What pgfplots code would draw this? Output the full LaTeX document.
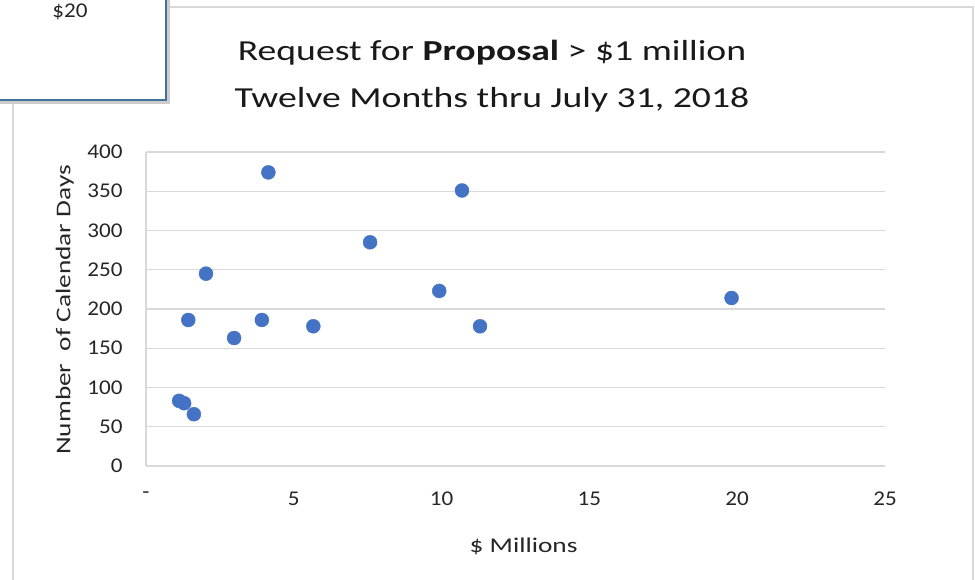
\documentclass[border=0pt]{standalone}
\usepackage{fontspec}
\setmainfont{Carlito}
\newfontfamily\wide[FakeStretch=1.3]{Carlito}
\newfontfamily\tickf[FakeStretch=1.1]{Carlito}
\usepackage{pgfplots}
\pgfplotsset{compat=1.18}
\definecolor{dot}{HTML}{4472C4}
\definecolor{gridc}{HTML}{D9D9D9}
\definecolor{txt}{HTML}{262626}
\definecolor{boxedge}{HTML}{41719C}
\begin{document}
\begin{tikzpicture}[x=1pt,y=1pt]
\path[use as bounding box] (0,0) rectangle (975,580);
% chart area frame
\draw[gridc, line width=1.5pt] (13,-5) -- (13,573) -- (973,573) -- (973,-5);
\node[align=center, font=\wide\fontsize{29}{47}\selectfont, text=black!90] at (492,504)
  {Request for \textbf{Proposal} > \$1 million\\Twelve Months thru July 31, 2018};
\begin{axis}[
  at={(146pt,114pt)}, anchor=south west,
  scale only axis, width=739pt, height=314pt,
  xmin=0, xmax=25, ymin=0, ymax=400,
  xtick={0,5,...,25}, xticklabels={-,5,10,15,20,25},
  ytick={0,50,...,400},
  ymajorgrids, grid style={gridc, line width=1.2pt},
  axis lines=left, axis line style={-, gridc, line width=1.2pt},
  major tick length=0pt,
  /pgf/number format/assume math mode=true,
  ticklabel style={font=\tickf\fontsize{21}{24}\selectfont, text=txt},
  xticklabel style={yshift=-22pt},
  yticklabel style={xshift=-20pt},
  xlabel={\$ Millions}, ylabel={Number\ \ of Calendar Days},
  label style={font=\wide\fontsize{21}{24}\selectfont, text=txt},
  x label style={at={(axis description cs:0.511,-0.255)}, anchor=center},
  y label style={at={(axis description cs:-0.11,0.497)}, anchor=center},
]
\addplot[only marks, mark=*, mark size=7pt, mark options={fill=dot, draw=dot}]
coordinates {
(1.12,83) (1.29,80) (1.62,66) (1.43,186) (2.03,245) (2.98,163)
(3.92,186) (4.14,374) (5.66,178) (7.58,285) (9.92,223) (10.69,351)
(11.30,178) (19.81,214)
};
\end{axis}
% pop-up box over the corner
\fill[black!20] (-5,476) rectangle (170,585);
\filldraw[fill=white, draw=boxedge, line width=1.5pt] (-5,480) rectangle (166,585);
\node[font=\tickf\fontsize{21}{24}\selectfont, text=txt] at (70,568) {\$20};
\end{tikzpicture}
\end{document}
